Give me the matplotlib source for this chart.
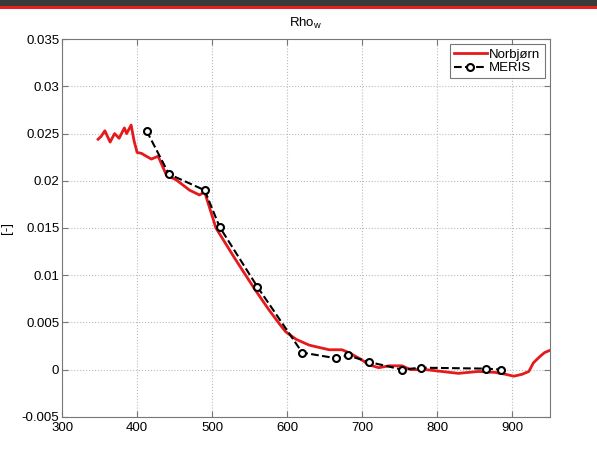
import matplotlib.pyplot as plt
from matplotlib.patches import Rectangle

plt.rcParams['font.family'] = ['Liberation Sans', 'DejaVu Sans']

# Norbjørn in-situ spectrum
norb_wl = [348, 352, 357, 364, 370, 376, 383, 386, 392, 396, 400, 406, 410, 419, 428,
           439, 452, 470, 483, 490, 505, 530, 556, 575, 590, 598, 612, 629, 634, 656,
           673, 682, 698, 709, 722, 736, 753, 764, 775, 784, 806, 828, 855, 877, 891,
           902, 913, 922, 928, 933, 937, 943, 952]
norb_rho = [0.0244, 0.0247, 0.0253, 0.0241, 0.0250, 0.0245, 0.0256, 0.0250, 0.0259, 0.0242,
            0.0230, 0.0229, 0.0227, 0.0223, 0.0226, 0.0206, 0.0201, 0.0190, 0.0185, 0.0188,
            0.0150, 0.0118, 0.0086, 0.0064, 0.0048, 0.0040, 0.0032, 0.0026, 0.0025, 0.0021,
            0.0021, 0.0018, 0.0011, 0.0005, 0.0002, 0.0004, 0.0004, 0.0000, 0.0000, 0.0000,
            -0.0002, -0.0004, -0.0002, -0.0003, -0.0005, -0.0007, -0.0005, -0.0002, 0.0007,
            0.0011, 0.0014, 0.0018, 0.0021]

# MERIS bands
meris_wl = [412.5, 442.5, 490, 510, 560, 620, 665, 681, 709, 753, 778, 865, 885]
meris_rho = [0.0253, 0.0207, 0.0190, 0.0151, 0.0088, 0.0018, 0.0012, 0.0015, 0.0008,
             0.0000, 0.0002, 0.0001, 0.0000]

fig = plt.figure(figsize=(5.97, 4.72), dpi=100)
ax = fig.add_axes([0.104, 0.117, 0.817, 0.800])

# screenshot strip at the top
fig.patches.append(Rectangle((0, 1 - 7 / 472), 1, 7 / 472, transform=fig.transFigure,
                             facecolor='#3a3a3a', edgecolor='none'))
fig.patches.append(Rectangle((0, 1 - 9 / 472), 1, 2.5 / 472, transform=fig.transFigure,
                             facecolor='#e8211d', edgecolor='none'))

ax.plot(norb_wl, norb_rho, color='#e41a1c', linewidth=2, label='Norbjørn')
ax.plot(meris_wl, meris_rho, color='black', linestyle='--', linewidth=1.5,
        marker='o', markersize=5, markerfacecolor='white', markeredgecolor='black',
        markeredgewidth=1.5, label='MERIS')

ax.set_xlim(300, 950)
ax.set_ylim(-0.005, 0.035)
ax.set_xticks([300, 400, 500, 600, 700, 800, 900])
ax.set_yticks([-0.005, 0, 0.005, 0.01, 0.015, 0.02, 0.025, 0.03, 0.035])
ax.set_yticklabels(['-0.005', '0', '0.005', '0.01', '0.015', '0.02', '0.025', '0.03', '0.035'])
ax.grid(True, linestyle=':', color='#bbbbbb', linewidth=0.8)
ax.tick_params(direction='in', top=True, right=True, labelsize=9.5, length=4,
               color='#777777', pad=2)
ax.tick_params(axis='x', pad=4)
for s in ax.spines.values():
    s.set_color('#777777')

ax.set_title('Rho$_\\mathregular{w}$', fontsize=9.5, pad=9)
ax.set_ylabel('[-]', fontsize=9.5, labelpad=6)

leg = ax.legend(loc='upper right', fontsize=9.5, fancybox=False, handlelength=2.5,
                borderpad=0.3, labelspacing=0.1, handletextpad=0.2, borderaxespad=0.4)
leg.get_frame().set_edgecolor('#555555')
leg.get_frame().set_linewidth(0.8)

fig.savefig('out.png', dpi=100)
